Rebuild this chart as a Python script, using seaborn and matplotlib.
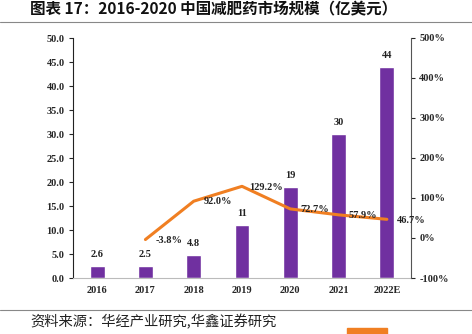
import matplotlib
matplotlib.use("Agg")
import matplotlib.pyplot as plt
import seaborn as sns
import pandas as pd
from matplotlib.patches import Rectangle
from matplotlib.lines import Line2D

years = ["2016", "2017", "2018", "2019", "2020", "2021", "2022E"]
market = [2.6, 2.5, 4.8, 11, 19, 30, 44]
market_labels = ["2.6", "2.5", "4.8", "11", "19", "30", "44"]
growth_years = ["2017", "2018", "2019", "2020", "2021", "2022E"]
growth = [-3.8, 92.0, 129.2, 72.7, 57.9, 46.7]

sns.set_style("white")
plt.rcParams['font.family'] = ['Liberation Serif', 'Noto Sans CJK SC', 'DejaVu Sans']

fig = plt.figure(figsize=(4.72, 3.34), dpi=100)
ax = fig.add_axes([73/472, 56/334, 338/472, 240/334])

df = pd.DataFrame({"year": years, "market": market})
sns.barplot(data=df, x="year", y="market", color="#7030A0", saturation=1,
            width=0.31, ax=ax)
ax.set_xlim(-0.5, 6.5)
ax.set_ylim(0, 50)
ax.set_yticks([i * 5 for i in range(11)])
ax.set_yticklabels([f"{i*5:.1f}" for i in range(11)], fontsize=7.5, fontweight='bold')
ax.set_xlabel("")
ax.set_ylabel("")
ax.tick_params(axis='x', length=0, labelsize=7.5, pad=6)
for lab in ax.get_xticklabels():
    lab.set_fontweight('bold')
ax.tick_params(axis='y', length=3, direction='out', left=True, pad=3)
for s in ["top", "right"]:
    ax.spines[s].set_visible(False)
ax.spines["left"].set_color("#222222")
ax.spines["left"].set_linewidth(0.8)
ax.spines["bottom"].set_color("#bbbbbb")
ax.spines["bottom"].set_linewidth(0.8)

for i, (v, t) in enumerate(zip(market, market_labels)):
    ax.text(i, v + 1.4, t, ha='center', va='bottom', fontsize=7.5,
            fontweight='bold', color='#222222')

ax2 = ax.twinx()
gx = [years.index(y) for y in growth_years]
sns.lineplot(x=gx, y=growth, color="#F07F22", linewidth=2.2, ax=ax2)
ax2.set_xlim(-0.5, 6.5)
ax2.set_ylim(-100, 500)
ax2.set_yticks(range(-100, 501, 100))
ax2.set_yticklabels([f"{v}%" for v in range(-100, 501, 100)], fontsize=7.5, fontweight='bold')
ax2.tick_params(axis='y', length=3, direction='out', right=True, pad=3)
ax2.set_ylabel("")
for s in ["top", "left", "bottom"]:
    ax2.spines[s].set_visible(False)
ax2.spines["right"].set_color("#555555")
ax2.spines["right"].set_linewidth(0.8)

for x, g in zip(gx, growth):
    ax2.text(x + 0.5, g - 2, f"{g:.1f}%", ha='center', va='center', fontsize=7.5,
             fontweight='bold', color='#222222')

fig.text(30/472, 1 - 9/334, "图表 17：2016-2020 中国减肥药市场规模（亿美元）",
         fontsize=11.2, fontweight='bold', ha='left', va='center',
         family=['Noto Sans CJK SC', 'DejaVu Sans'], color='#111111')
fig.add_artist(Line2D([0, 1], [1 - 22/334, 1 - 22/334], color='#888888', lw=0.8,
                      transform=fig.transFigure))
fig.add_artist(Line2D([0, 1], [1 - 310/334, 1 - 310/334], color='#888888', lw=0.8,
                      transform=fig.transFigure))
fig.text(30/472, 1 - 322/334, "资料来源：华经产业研究,华鑫证券研究",
         fontsize=10.3, ha='left', va='center',
         family=['Noto Sans CJK SC', 'DejaVu Sans'], color='#222222')
fig.add_artist(Rectangle((347/472, 0), 40/472, 6/334, color='#F07F22',
                         transform=fig.transFigure))

fig.savefig("out.png", dpi=100)
